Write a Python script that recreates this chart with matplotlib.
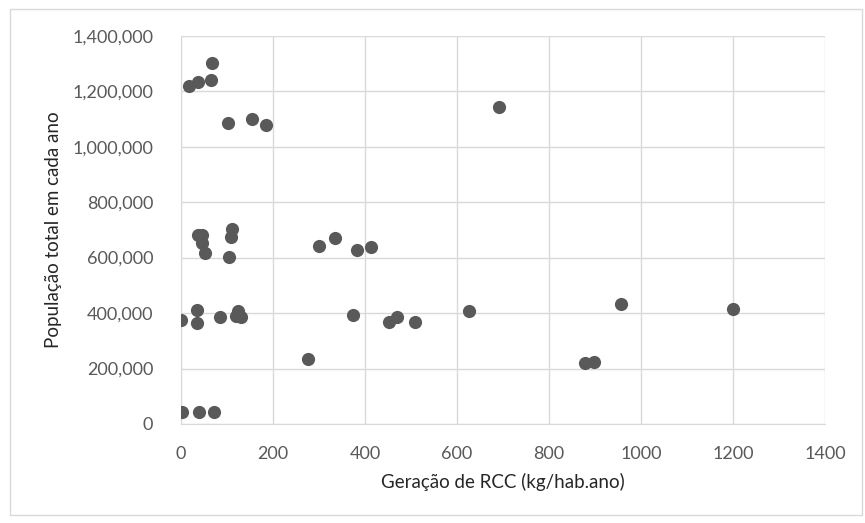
import matplotlib
matplotlib.use("Agg")
import matplotlib.pyplot as plt
from matplotlib.patches import Rectangle
from matplotlib.ticker import FuncFormatter, MultipleLocator

# Geração de RCC (kg/hab.ano) vs população total
geracao = [67, 65, 36, 18, 102, 155, 185,
           36, 46, 45, 53, 111, 109, 104,
           299, 334, 383, 414,
           0, 35, 35, 85, 123, 120, 130,
           373, 453, 470, 509, 275,
           2, 40, 71, 625, 692, 956, 1200, 878, 898]
populacao = [1300000, 1242000, 1232000, 1219000, 1087000, 1098000, 1077000,
             680000, 680000, 651000, 615000, 704000, 675000, 603000,
             643000, 671000, 628000, 637000,
             375000, 411000, 365000, 387000, 407000, 390000, 387000,
             393000, 368000, 386000, 369000, 235000,
             42000, 42000, 43000, 408000, 1142000, 434000, 414000, 221000, 223000]

plt.rcParams['font.family'] = ['Lato', 'DejaVu Sans']
text_color = '#595959'
label_color = '#262626'
grid_color = '#d9d9d9'

fig = plt.figure(figsize=(8.65, 5.23), dpi=100)
fig.patches.append(Rectangle((10 / 865, 8 / 523), 852 / 865, 506 / 523,
                             transform=fig.transFigure, fill=False,
                             edgecolor=grid_color, linewidth=1))
ax = fig.add_axes([181 / 865, 99 / 523, 644 / 865, 388.3 / 523])

ax.scatter(geracao, populacao, s=90, color='#595959', zorder=3, linewidths=0)

ax.set_xlim(0, 1400)
ax.set_ylim(0, 1400000)
ax.xaxis.set_major_locator(MultipleLocator(200))
ax.yaxis.set_major_locator(MultipleLocator(200000))
ax.yaxis.set_major_formatter(FuncFormatter(lambda v, p: f"{int(v):,}"))
ax.grid(True, color=grid_color, linewidth=1)
ax.set_axisbelow(True)
for side in ['top', 'right']:
    ax.spines[side].set_visible(False)
for side in ['left', 'bottom']:
    ax.spines[side].set_color(grid_color)
ax.tick_params(length=0, labelsize=13, colors=text_color)
ax.tick_params(axis='x', pad=16)
ax.tick_params(axis='y', pad=20)

ax.set_xlabel('Geração de RCC (kg/hab.ano)', fontsize=13.5, color=label_color, labelpad=8)
ax.set_ylabel('População total em cada ano', fontsize=13.5, color=label_color, labelpad=7)

fig.savefig('out.png', dpi=100)
